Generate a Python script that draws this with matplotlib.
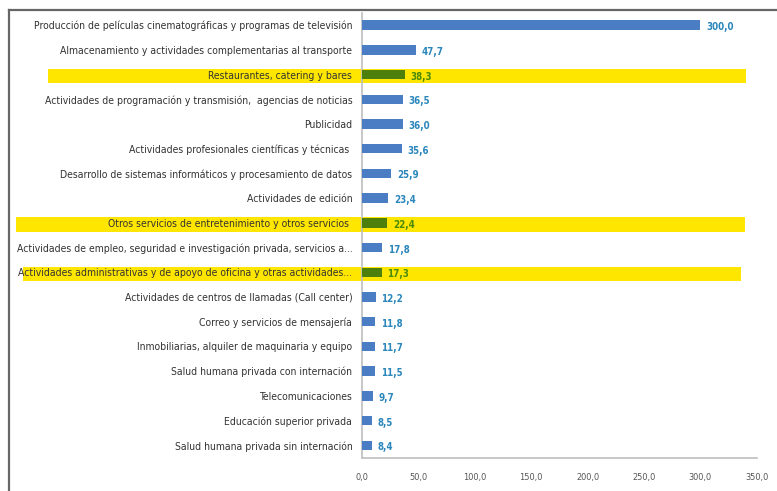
import matplotlib.pyplot as plt
import matplotlib.patches as patches
import matplotlib.transforms as transforms
from matplotlib.lines import Line2D

plt.rcParams['font.family'] = ['DejaVu Sans']
plt.rcParams['font.stretch'] = 'condensed'

categories = [
    'Producción de películas cinematográficas y programas de televisión',
    'Almacenamiento y actividades complementarias al transporte',
    'Restaurantes, catering y bares',
    'Actividades de programación y transmisión,  agencias de noticias',
    'Publicidad',
    'Actividades profesionales científicas y técnicas ',
    'Desarrollo de sistemas informáticos y procesamiento de datos',
    'Actividades de edición',
    'Otros servicios de entretenimiento y otros servicios ',
    'Actividades de empleo, seguridad e investigación privada, servicios a...',
    'Actividades administrativas y de apoyo de oficina y otras actividades...',
    'Actividades de centros de llamadas (Call center)',
    'Correo y servicios de mensajería',
    'Inmobiliarias, alquiler de maquinaria y equipo',
    'Salud humana privada con internación',
    'Telecomunicaciones',
    'Educación superior privada',
    'Salud humana privada sin internación',
]
values = [300.0, 47.7, 38.3, 36.5, 36.0, 35.6, 25.9, 23.4, 22.4, 17.8,
          17.3, 12.2, 11.8, 11.7, 11.5, 9.7, 8.5, 8.4]
highlighted = [2, 8, 10]
xticks = [0, 50, 100, 150, 200, 250, 300, 350]

blue = '#4A7DC4'
green = '#4C7F0C'
blue_txt = '#2A86BB'
green_txt = '#4A8A0A'
yellow = '#FFE600'

fig = plt.figure(figsize=(7.77, 4.91), dpi=100)
ax = fig.add_axes([0.466, 0.068, 0.508, 0.906])

colors = [green if i in highlighted else blue for i in range(len(values))]
ypos = list(range(len(values)))
ax.barh(ypos, values, height=0.38, color=colors, zorder=3)

for i, v in enumerate(values):
    txt = f'{v:.1f}'.replace('.', ',')
    ax.annotate(txt, (v, i), xytext=(4, -1.5), textcoords='offset points',
                ha='left', va='center', fontsize=7, fontweight='bold',
                color=green_txt if i in highlighted else blue_txt, zorder=4)

# yellow highlight bands behind the highlighted rows (x in figure fraction)
blend = transforms.blended_transform_factory(fig.transFigure, ax.transData)
band_x = {2: (48, 746), 8: (16, 745), 10: (23, 741)}
for i, (x0, x1) in band_x.items():
    rect = patches.Rectangle((x0 / 777, i - 0.22), (x1 - x0) / 777, 0.58,
                             transform=blend, facecolor=yellow,
                             edgecolor='none', clip_on=False, zorder=0.5)
    ax.add_patch(rect)

ax.set_xlim(0, 350)
ax.set_ylim(len(values) - 0.5, -0.5)
ax.set_yticks(ypos)
ax.set_yticklabels(categories, fontsize=7.5, color='#333333')
ax.set_xticks(xticks)
ax.set_xticklabels([f'{t:.1f}'.replace('.', ',') for t in xticks],
                   fontsize=6.6, color='#555555')
ax.tick_params(axis='y', length=0, pad=7)
ax.tick_params(axis='x', length=0, pad=11)

for s in ['top', 'right']:
    ax.spines[s].set_visible(False)
for s in ['left', 'bottom']:
    ax.spines[s].set_color('#BFBFBF')
    ax.spines[s].set_linewidth(1.2)

# outer frame (top and left edges)
fig.add_artist(Line2D([8.5 / 777, 1], [1 - 10 / 491, 1 - 10 / 491],
                      transform=fig.transFigure, color='#666666', lw=1.6))
fig.add_artist(Line2D([8.5 / 777, 8.5 / 777], [0, 1 - 10 / 491],
                      transform=fig.transFigure, color='#666666', lw=1.6))

fig.savefig('out.png', dpi=100)
